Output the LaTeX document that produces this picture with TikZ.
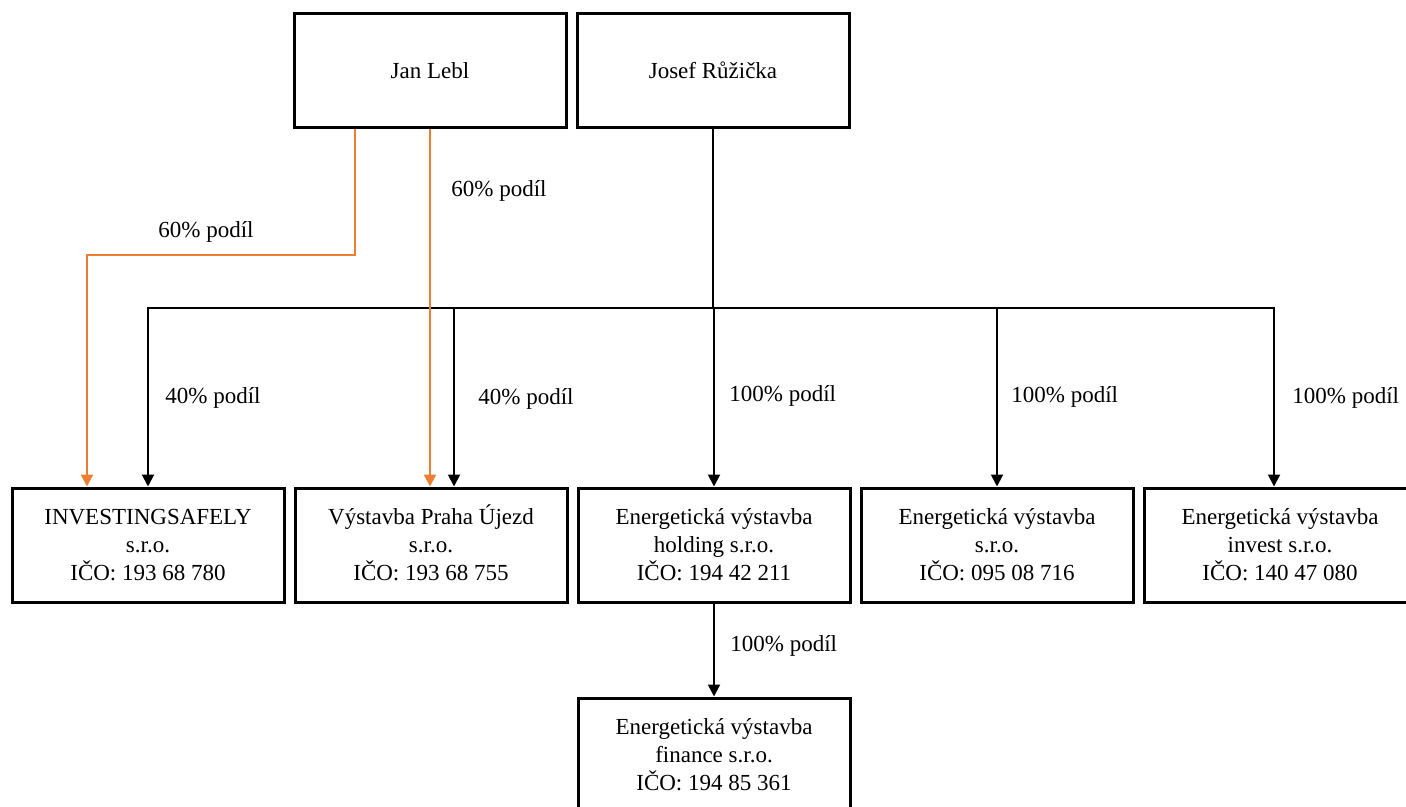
\documentclass[tikz,border=0pt]{standalone}
\usepackage{fontspec}
\setmainfont{Liberation Serif}
\usetikzlibrary{positioning, arrows.meta}
\definecolor{leblorange}{RGB}{237,125,49}

\begin{document}
\begin{tikzpicture}[x=0.5pt, y=-0.5pt, node distance=4pt]
    \tikzstyle{firm}=[rectangle, draw, line width=1.5pt, minimum width=136pt, minimum height=57pt, inner sep=0pt, align=center, font=\fontsize{11.5}{14}\selectfont]
    \tikzstyle{share}=[line width=1pt, -{Triangle[length=6pt, width=6pt]}]
    \tikzstyle{share lebl}=[share, draw=leblorange, line width=1.2pt]
    \tikzstyle{pct}=[anchor=west, inner sep=0pt, font=\fontsize{11.5}{14}\selectfont]

    \useasboundingbox (0,0) rectangle (1406,807);

    \node[firm] (lebl) at (430,70.5) {Jan Lebl};
    \node[firm, right=of lebl] (ruzicka) {Josef Růžička};

    \node[firm] (safely) at (148,545) {INVESTINGSAFELY\\s.r.o.\\IČO: 193 68 780};
    \node[firm, right=of safely] (ujezd) {Výstavba Praha \smash{Ú}jezd\\s.r.o.\\IČO: 193 68 755};
    \node[firm, right=of ujezd] (holding) {Energetická výstavba\\holding s.r.o.\\IČO: 194 42 211};
    \node[firm, right=of holding] (evsro) {Energetická výstavba\\s.r.o.\\IČO: 095 08 716};
    \node[firm, right=of evsro] (invest) {Energetická výstavba\\invest s.r.o.\\IČO: 140 47 080};
    \node[firm, below=46.5pt of holding] (finance) {Energetická výstavba\\finance s.r.o.\\IČO: 194 85 361};

    % Josef Ruzicka
    \coordinate (bus) at (ruzicka.south |- 0,308);
    \draw[line width=1pt] (ruzicka.south) -- (bus);
    \draw[share] (bus) -| (safely.north);
    \draw[share] (bus) -| ([xshift=11.5pt]ujezd.north);
    \draw[share] (bus) -| (holding.north);
    \draw[share] (bus) -| (evsro.north);
    \draw[share] (bus) -| ([xshift=-3pt]invest.north);
    \draw[share] (holding.south) -- (finance.north);

    % Jan Lebl
    \draw[share lebl] ([xshift=-37.5pt]lebl.south) -- ++(0,126) -| ([xshift=-30.5pt]safely.north);
    \draw[share lebl] (lebl.south) -- (lebl.south |- ujezd.north);

    \node[pct] (lebl safely) at (158,232) {60\% podíl};
    \node[pct] (lebl ujezd) at (451,191) {60\% podíl};
    \node[pct] (ruz safely) at (165,398) {40\% podíl};
    \node[pct] (ruz ujezd) at (478,399) {40\% podíl};
    \node[pct] (ruz holding) at (729,396) {100\% podíl};
    \node[pct] (ruz evsro) at (1011,397) {100\% podíl};
    \node[pct] (ruz invest) at (1292,398) {100\% podíl};
    \node[pct] (hold finance) at (730,646) {100\% podíl};
\end{tikzpicture}
\end{document}
